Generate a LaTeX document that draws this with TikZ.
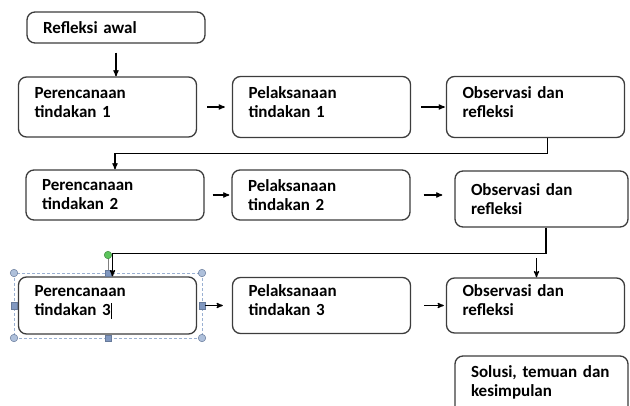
\documentclass[tikz,border=0pt]{standalone}
\usepackage{fontspec}
\setmainfont{Carlito}[WordSpace=0.7]
\usetikzlibrary{arrows,shapes,positioning,calc}
\definecolor{garis}{HTML}{3C3C3C}
\definecolor{pilih}{HTML}{9AB0D2}
\definecolor{pegangan}{HTML}{8198C0}
\definecolor{putar}{HTML}{5CC45C}
\tikzset{
    langkah/.style={
        rectangle,
        rounded corners=8pt,
        draw=garis,
        line width=1.3pt,
        minimum width=178pt,
        text width=146pt,
        inner xsep=16pt,
        align=left,
        font=\bfseries\fontsize{17}{19}\selectfont,
    },
    sempit/.style={
        minimum width=173pt,
        text width=141pt,
    },
    naik/.style={
        text depth=29pt,
    },
    alur/.style={
        draw,
        ->,>=stealth',
        line width=1.2pt,
    },
    pojok/.style={
        circle,
        draw=pegangan!80!black,
        fill=pilih!80,
        line width=0.5pt,
        inner sep=0pt,
        minimum size=7.5pt,
    },
    sisi/.style={
        rectangle,
        draw=pegangan!80!black,
        fill=pegangan,
        line width=0.5pt,
        inner sep=0pt,
        minimum size=6.5pt,
    },
    every edge/.style={
        draw,
        ->,>=stealth',
        line width=1.2pt,
        shorten <=10pt,
        shorten >=7pt,
    },
    node distance=214pt,
}
\begin{document}
\begin{tikzpicture}[x=1pt,y=-1pt]
                \clip (0,0) rectangle (630,405);
                \node [langkah, minimum height=31pt] (RA) at (116,27.5) {Refleksi awal};

                \node [langkah, naik, minimum height=60pt] (P1) at (107.5,107) {Perencanaan\\tindakan 1};
                \node [langkah, naik, minimum height=61pt, right of=P1] (L1) {Pelaksanaan\\tindakan 1};
                \node [langkah, naik, minimum height=61pt, right of=L1] (O1) {Observasi dan\\refleksi};

                \node [langkah, minimum height=50pt] (P2) at (115,195) {Perencanaan\\tindakan 2};
                \node [langkah, minimum height=50pt, right of=P2, xshift=-8pt] (L2) {Pelaksanaan\\tindakan 2};
                \node [langkah, sempit, minimum height=56pt, right of=L2, xshift=6.5pt, yshift=-4pt] (O2) {Observasi dan\\refleksi};

                \node [langkah, naik, minimum height=57pt] (P3) at (107.5,305.5) {Perencanaan\\tindakan 3\rule[-3pt]{1.4pt}{16pt}};
                \node [langkah, naik, minimum height=56pt, right of=P3] (L3) {Pelaksanaan\\tindakan 3};
                \node [langkah, naik, minimum height=55pt, right of=L3] (O3) {Observasi dan\\refleksi};

                \node [langkah, sempit, naik, minimum height=60pt] (S) at (541.5,386) {Solusi, temuan dan\\kesimpulan};

                \draw [pilih, densely dashed, line width=0.6pt] (14,273) rectangle (202,338);
                \draw [gray, line width=0.8pt] (108,258) -- (108,270);
                \node [pojok] (h1) at (14,273) {};
                \node [pojok] (h2) at (202,273) {};
                \node [pojok] (h3) at (14,338) {};
                \node [pojok] (h4) at (202,338) {};
                \node [sisi] (h5) at (108,273) {};
                \node [sisi] (h6) at (108,338) {};
                \node [sisi] (h7) at (14,305.5) {};
                \node [sisi] (h8) at (202,305.5) {};
                \node [pojok, fill=putar, draw=putar!70!black] (hp) at (108,255) {};

                \draw (RA.south) edge[shorten <=9pt, shorten >=0pt] (RA.south |- P1.north);

                \draw (P1) edge (L1);
                \draw (L1) edge[shorten >=1pt] (O1);
                \draw (P2) edge[shorten <=8pt, shorten >=2pt] (L2);
                \draw (L2.east) edge[shorten <=13pt, shorten >=12pt] (L2.east -| O2.west);
                \draw (P3) edge[shorten <=8pt, shorten >=9pt] (L3);
                \draw (L3) edge[shorten <=13pt, shorten >=2pt] (O3);

                \draw [alur] ([xshift=12pt]O1.south) -- ++(0,15) -| (P2.north);
                \draw [alur] ([xshift=4.5pt]O2.south) -- ++(0,26) -| ([xshift=5pt]P3.north);

                \coordinate (cabang) at ([xshift=1pt, yshift=19pt]O3.north);
                \draw (cabang) edge[shorten <=0pt, shorten >=0pt] (cabang |- O3.north);

\end{tikzpicture}
\end{document}
